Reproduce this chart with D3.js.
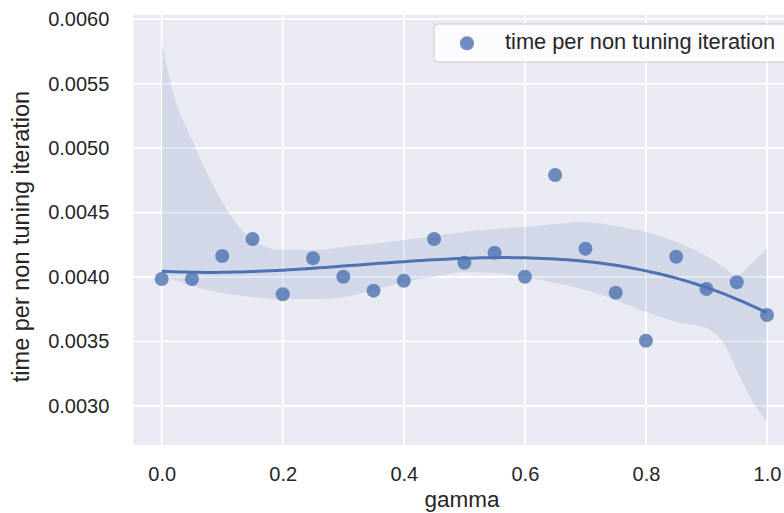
<!DOCTYPE html>
<html>
<head>
<meta charset="utf-8">
<script src="https://cdn.jsdelivr.net/npm/d3@7"></script>
<style>
  body { margin: 0; background: #fff; }
  svg { display: block; font-family: "Liberation Sans", Arial, sans-serif; }
</style>
</head>
<body>
<svg id="chart" width="784" height="513"></svg>
<script>
// scatter data
var gamma = [0.00, 0.05, 0.10, 0.15, 0.20, 0.25, 0.30, 0.35, 0.40, 0.45, 0.50,
             0.55, 0.60, 0.65, 0.70, 0.75, 0.80, 0.85, 0.90, 0.95, 1.00];
var timePerIter = [0.003984, 0.003984, 0.004163, 0.004295, 0.003866, 0.004145, 0.004002,
                   0.003894, 0.003971, 0.004295, 0.004111, 0.004189, 0.004002, 0.004791,
                   0.004220, 0.003878, 0.003506, 0.004157, 0.003907, 0.003959, 0.003705];

// bootstrap confidence band
var bandX     = [0.00, 0.02, 0.05, 0.10, 0.15, 0.20, 0.25, 0.30, 0.35, 0.40, 0.45, 0.50,
                 0.55, 0.60, 0.65, 0.70, 0.75, 0.80, 0.85, 0.90, 0.93, 0.95, 0.97, 1.00];
var bandUpper = [0.005823, 0.005412, 0.005063, 0.004582, 0.004287, 0.004209, 0.004209, 0.004233,
                 0.004256, 0.004287, 0.004318, 0.004349, 0.004372, 0.004388, 0.004411, 0.004427,
                 0.004396, 0.004349, 0.004272, 0.004163, 0.004070, 0.004008, 0.004085, 0.004225];
var bandLower = [0.004000, 0.003977, 0.003930, 0.003876, 0.003845, 0.003829, 0.003829, 0.003845,
                 0.003899, 0.003961, 0.004000, 0.004039, 0.004031, 0.004000, 0.003953, 0.003899,
                 0.003822, 0.003728, 0.003651, 0.003605, 0.003472, 0.003279, 0.003085, 0.002875];

var xTicks = [0.0, 0.2, 0.4, 0.6, 0.8, 1.0];
var yTicks = [0.0030, 0.0035, 0.0040, 0.0045, 0.0050, 0.0055, 0.0060];

var blue = "#4C72B0", textCol = "#262626";

var svg = d3.select("#chart");
var plotL = 133.3, plotT = 15, plotB = 445, plotR = 798;

var x = d3.scaleLinear().domain([0, 1]).range([161.7, 767]);
var y = d3.scaleLinear().domain([0.003, 0.006]).range([405.9, 19.2]);

// background
svg.append("rect").attr("x", plotL).attr("y", plotT)
  .attr("width", plotR - plotL).attr("height", plotB - plotT).attr("fill", "#EAEAF2");

// grid
svg.append("g").selectAll("line").data(xTicks).enter().append("line")
  .attr("x1", function(d) { return x(d); }).attr("x2", function(d) { return x(d); })
  .attr("y1", plotT).attr("y2", plotB)
  .attr("stroke", "#fff").attr("stroke-width", 1.8);
svg.append("g").selectAll("line").data(yTicks).enter().append("line")
  .attr("x1", plotL).attr("x2", plotR)
  .attr("y1", function(d) { return y(d); }).attr("y2", function(d) { return y(d); })
  .attr("stroke", "#fff").attr("stroke-width", 1.8);

// cubic least squares fit (order=3)
function polyfit(xs, ys, deg) {
  var n = deg + 1, A = [], i, j, k;
  for (i = 0; i < n; i++) {
    A.push([]);
    for (j = 0; j <= n; j++) A[i].push(0);
  }
  xs.forEach(function(xv, idx) {
    for (i = 0; i < n; i++) {
      for (j = 0; j < n; j++) A[i][j] += Math.pow(xv, i + j);
      A[i][n] += ys[idx] * Math.pow(xv, i);
    }
  });
  for (i = 0; i < n; i++) {
    for (k = i + 1; k < n; k++) {
      var f = A[k][i] / A[i][i];
      for (j = i; j <= n; j++) A[k][j] -= f * A[i][j];
    }
  }
  var c = new Array(n);
  for (i = n - 1; i >= 0; i--) {
    var s = A[i][n];
    for (j = i + 1; j < n; j++) s -= A[i][j] * c[j];
    c[i] = s / A[i][i];
  }
  return c;
}
var coef = polyfit(gamma, timePerIter, 3);
var fitPts = d3.range(0, 101).map(function(i) {
  var g = i / 100;
  return [g, coef[0] + coef[1] * g + coef[2] * g * g + coef[3] * g * g * g];
});

// band
var band = bandX.map(function(g, i) { return {g: g, lo: bandLower[i], hi: bandUpper[i]}; });
svg.append("path").datum(band)
  .attr("d", d3.area().curve(d3.curveMonotoneX)
    .x(function(d) { return x(d.g); })
    .y0(function(d) { return y(d.lo); })
    .y1(function(d) { return y(d.hi); }))
  .attr("fill", blue).attr("fill-opacity", 0.15);

// points
svg.append("g").selectAll("circle").data(gamma).enter().append("circle")
  .attr("cx", function(d) { return x(d); })
  .attr("cy", function(d, i) { return y(timePerIter[i]); })
  .attr("r", 7).attr("fill", blue).attr("fill-opacity", 0.8);

// fit line
svg.append("path").datum(fitPts)
  .attr("d", d3.line().x(function(d) { return x(d[0]); }).y(function(d) { return y(d[1]); }))
  .attr("fill", "none").attr("stroke", blue).attr("stroke-width", 3);

// axes (labels only)
var xAxis = svg.append("g").attr("transform", "translate(0," + plotB + ")")
  .call(d3.axisBottom(x).tickValues(xTicks).tickSize(0).tickPadding(22)
    .tickFormat(function(d) { return d.toFixed(1); }));
var yAxis = svg.append("g").attr("transform", "translate(" + plotL + ",0)")
  .call(d3.axisLeft(y).tickValues(yTicks).tickSize(0).tickPadding(24)
    .tickFormat(function(d) { return d.toFixed(4); }));
[xAxis, yAxis].forEach(function(a) {
  a.select(".domain").remove();
  a.selectAll("text").attr("fill", textCol).style("font-size", "20px")
    .style("font-family", "'Liberation Sans', Arial, sans-serif");
});

svg.append("text").attr("x", 462).attr("y", 507).attr("text-anchor", "middle")
  .attr("fill", textCol).style("font-size", "22.5px").text("gamma");
svg.append("text").attr("transform", "translate(29,236.5) rotate(-90)")
  .attr("text-anchor", "middle").attr("fill", textCol).style("font-size", "23.5px")
  .text("time per non tuning iteration");

// legend
var leg = svg.append("g");
leg.append("rect").attr("x", 434).attr("y", 24).attr("width", 400).attr("height", 38)
  .attr("rx", 4).attr("fill", "#fff").attr("fill-opacity", 0.8)
  .attr("stroke", "#cccccc").attr("stroke-width", 1);
leg.append("circle").attr("cx", 467).attr("cy", 43.3).attr("r", 7)
  .attr("fill", blue).attr("fill-opacity", 0.8);
leg.append("text").attr("x", 505).attr("y", 48.5).attr("fill", textCol)
  .style("font-size", "21.8px").text("time per non tuning iteration");
</script>
</body>
</html>
